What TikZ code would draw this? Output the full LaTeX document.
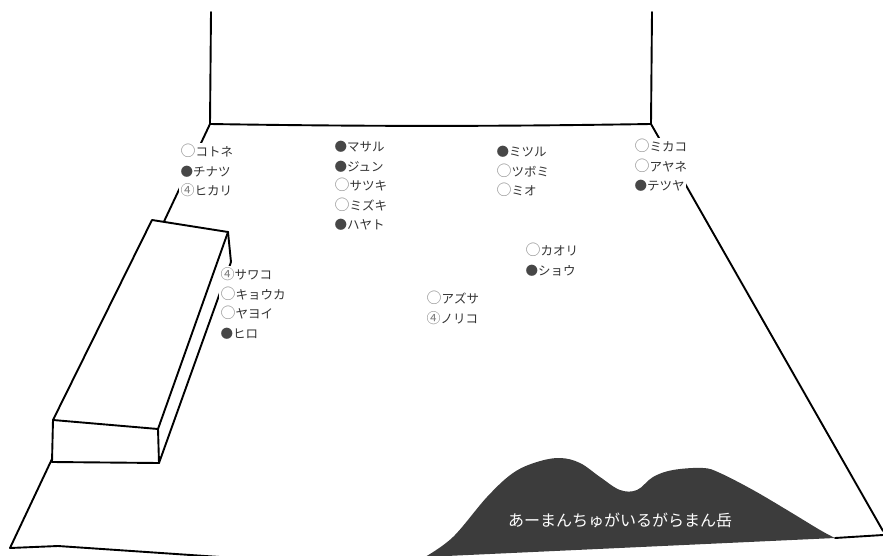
\documentclass[tikz,border=0pt]{standalone}
\usepackage{fontspec}
\usepackage{graphicx}
\newfontfamily\jp{Noto Sans CJK JP}
\usetikzlibrary{positioning}
\definecolor{ink}{HTML}{333333}
\definecolor{ringgray}{HTML}{8C8C8C}
\definecolor{dotgray}{HTML}{474747}
\definecolor{mtngray}{HTML}{3C3C3C}

\newcommand{\ringmark}{\textcolor{ringgray}{\scalebox{1.2}{○}}}
\newcommand{\dotmark}{\textcolor{dotgray}{●}}
\newcommand{\fourmark}{\textcolor{gray}{\scalebox{1.12}{④}}}

\tikzset{
  edge/.style={line width=1.9pt, line cap=round, line join=round},
  person/.style={anchor=west, fill=white, draw=white, line width=1pt, text=ink,
    inner xsep=1pt, inner ysep=0pt, text height=13pt, text depth=5.5pt,
    font=\jp\fontsize{12.5pt}{15pt}\selectfont},
  under/.style={below right=0pt and 0pt of #1.south west}
}

\begin{document}
\begin{tikzpicture}[x=1pt, y=-1pt]
    \useasboundingbox (0,0) rectangle (883,556);

    % Room corners
    \coordinate (wallL) at (211,12);
    \coordinate (wallR) at (652,12);
    \coordinate (backL) at (210,124);
    \coordinate (backR) at (651,124);
    \coordinate (frontL) at (10,548);
    \coordinate (frontR) at (883,531);

    % Bench corners
    \coordinate (benchBL) at (152,220);
    \coordinate (benchBR) at (228,232);
    \coordinate (benchBB) at (231,262);
    \coordinate (benchFL) at (53,420);
    \coordinate (benchFR) at (158,429);
    \coordinate (benchFLB) at (52,462);
    \coordinate (benchFRB) at (159,463);

    % Walls and floor
    \draw[edge] (wallL) -- (backL);
    \draw[edge] (wallR) -- (backR);
    \draw[edge] (backL) .. controls (400,127) and (520,126) .. (backR);
    \draw[edge] (backL) -- (frontL);
    \draw[edge] (backR) -- (frontR);
    \draw[edge] (frontL) -- (58,546) -- (220,557);
    \draw[edge] (835,538) -- (883,535);

    % Bench
    \fill[white] (benchBL) -- (benchBR) -- (benchBB) -- (benchFRB) -- (benchFLB) -- (benchFL) -- cycle;
    \draw[edge] (benchBL) -- (benchBR) -- (benchFR) -- (benchFL) -- cycle;
    \draw[edge] (benchFL) -- (benchFLB) -- (benchFRB) -- (benchFR);
    \draw[edge] (benchBR) -- (benchBB) -- (benchFRB);

    % Mountain
    \fill[mtngray] plot[smooth, tension=0.6] coordinates {(425,557) (453,537) (487,497)
      (513,473) (537,462) (560,458) (580,463) (600,477) (620,490) (637,490) (653,477)
      (673,470) (703,468) (720,473) (753,490) (787,510) (820,530) (835,538)} -- cycle;
    \node[text=white, font=\jp\fontsize{16pt}{18pt}\selectfont] (dake) at (620,520)
      {あーまんちゅがいるがらまん岳};

    % People
    \node[person] (kotone) at (179,153) {\ringmark コトネ};
    \node[person, under=kotone] (chinatsu) {\dotmark チナツ};
    \node[person, under=chinatsu] (hikari) {\fourmark ヒカリ};

    \node[person] (masaru) at (333,148) {\dotmark マサル};
    \node[person, under=masaru] (jun) {\dotmark ジュン};
    \node[person, under=jun] (satsuki) {\ringmark サツキ};
    \node[person, under=satsuki] (mizuki) {\ringmark ミズキ};
    \node[person, under=mizuki] (hayato) {\dotmark ハヤト};

    \node[person] (mitsuru) at (495,153) {\dotmark ミツル};
    \node[person, under=mitsuru] (tsubomi) {\ringmark ツボミ};
    \node[person, under=tsubomi] (mio) {\ringmark ミオ};

    \node[person] (mikako) at (633,148) {\ringmark ミカコ};
    \node[person, under=mikako] (ayane) {\ringmark アヤネ};
    \node[person, under=ayane] (tetsuya) {\dotmark テツヤ};

    \node[person] (sawako) at (219,276) {\fourmark サワコ};
    \node[person, under=sawako] (kyouka) {\ringmark キョウカ};
    \node[person, under=kyouka] (yayoi) {\ringmark ヤヨイ};
    \node[person, under=yayoi] (hiro) {\dotmark ヒロ};

    \node[person] (kaori) at (524,252) {\ringmark カオリ};
    \node[person, under=kaori] (shou) {\dotmark ショウ};

    \node[person] (azusa) at (425,300) {\ringmark アズサ};
    \node[person, under=azusa] (noriko) {\fourmark ノリコ};
\end{tikzpicture}
\end{document}
